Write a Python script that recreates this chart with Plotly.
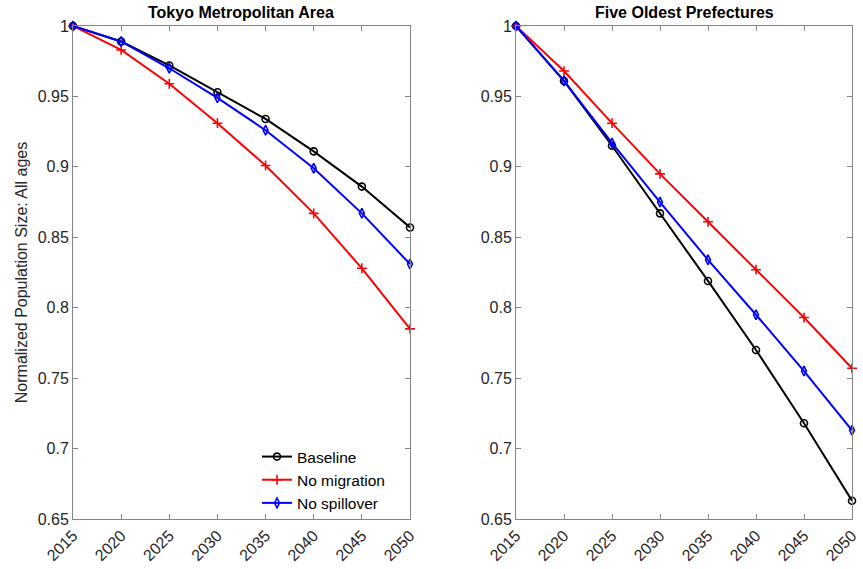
import plotly.graph_objects as go

years = [2015, 2020, 2025, 2030, 2035, 2040, 2045, 2050]
tokyo_baseline = [1.0, 0.989, 0.972, 0.953, 0.934, 0.911, 0.886, 0.857]
tokyo_nomig = [1.0, 0.983, 0.959, 0.931, 0.901, 0.867, 0.828, 0.785]
tokyo_nospill = [1.0, 0.989, 0.970, 0.949, 0.926, 0.899, 0.867, 0.831]
old_baseline = [1.0, 0.961, 0.915, 0.867, 0.819, 0.770, 0.718, 0.663]
old_nomig = [1.0, 0.968, 0.931, 0.895, 0.861, 0.827, 0.793, 0.757]
old_nospill = [1.0, 0.961, 0.917, 0.875, 0.834, 0.795, 0.755, 0.713]
yticks = [0.65, 0.7, 0.75, 0.8, 0.85, 0.9, 0.95, 1.0]
ytick_text = ["0.65", "0.7", "0.75", "0.8", "0.85", "0.9", "0.95", "1"]
titles = ["Tokyo Metropolitan Area", "Five Oldest Prefectures"]
names = ["Baseline", "No migration", "No spillover"]
colors = ["#000000", "#ff0000", "#0000ff"]
symbols = ["circle-open", "cross-thin-open", "diamond-tall-open"]

FONT = "Liberation Sans, Arial, Helvetica, sans-serif"
fig = go.Figure()
series = [[tokyo_baseline, tokyo_nomig, tokyo_nospill], [old_baseline, old_nomig, old_nospill]]
for p, group in enumerate(series):
    xa = "x" if p == 0 else "x2"
    ya = "y" if p == 0 else "y2"
    for i, vals in enumerate(group):
        fig.add_trace(go.Scatter(
            x=years, y=vals, mode="lines+markers", name=names[i],
            line=dict(color=colors[i], width=2),
            marker=dict(symbol=symbols[i], size=7,
                        color=colors[i], line=dict(color=colors[i], width=1.6)),
            xaxis=xa, yaxis=ya, showlegend=(p == 0), cliponaxis=False))

axcommon = dict(showgrid=False, zeroline=False, showline=True, linecolor="#858585",
                linewidth=1, mirror="ticks", ticks="inside", ticklen=5, automargin=False,
                tickcolor="#858585", tickfont=dict(family=FONT, size=16, color="#262626"))

fig.update_layout(
    width=863, height=569, margin=dict(l=0, r=0, t=0, b=0, autoexpand=False),
    paper_bgcolor="white", plot_bgcolor="white",
    font=dict(family=FONT, size=16, color="#262626"),
    xaxis=dict(domain=[73/863, 410/863], range=[2015, 2050], tickvals=years,
               tickangle=-45, anchor="y", **axcommon),
    xaxis2=dict(domain=[516/863, 852/863], range=[2015, 2050], tickvals=years,
                tickangle=-45, anchor="y2", **axcommon),
    yaxis=dict(domain=[1-519/569, 1-26/569], range=[0.65, 1.0], tickvals=yticks,
               ticktext=ytick_text, anchor="x",
               title=dict(text="Normalized Population Size: All ages", standoff=6,
                          font=dict(family=FONT, size=16, color="#262626")),
               **axcommon),
    yaxis2=dict(domain=[1-519/569, 1-26/569], range=[0.65, 1.0], tickvals=yticks,
                ticktext=ytick_text, anchor="x2", **axcommon),
    legend=dict(x=257/863, y=1-440/569, xanchor="left", yanchor="top",
                bgcolor="rgba(255,255,255,0)", font=dict(family=FONT, size=15.5, color="#000"),
                tracegroupgap=0, itemwidth=30),
    showlegend=True,
)
for p, t in enumerate(titles):
    cx = (73 + 410) / 2 / 863 if p == 0 else (516 + 852) / 2 / 863
    fig.add_annotation(text="<b>" + t + "</b>", x=cx, y=1 - 13/569, xref="paper", yref="paper",
                       showarrow=False, font=dict(family=FONT, size=16, color="#000"),
                       xanchor="center", yanchor="middle")

fig.write_html("out.html")
